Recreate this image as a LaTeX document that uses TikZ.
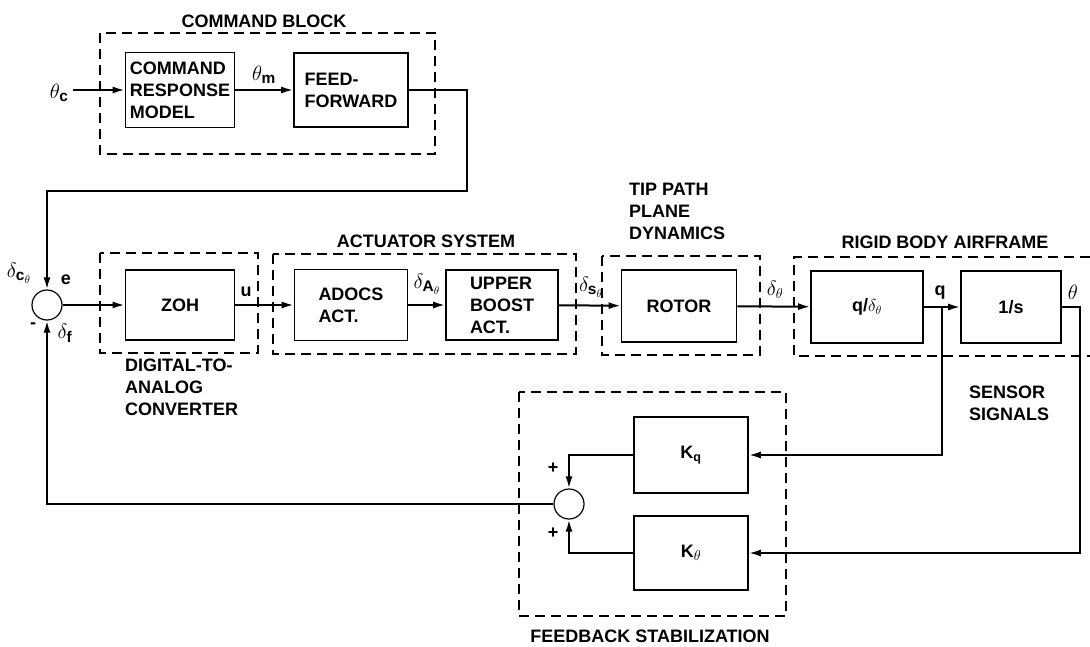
\documentclass[tikz,border=0pt]{standalone}
\usepackage{fontspec}
\usepackage{amsmath}
\setmainfont{Liberation Sans}
\usetikzlibrary{arrows.meta}

\begin{document}
\begin{tikzpicture}[x=1pt,y=-1pt,
    font=\fontsize{18}{22}\selectfont\bfseries,
    blk/.style={draw,line width=1.6pt,align=left,inner sep=2pt},
    sumpt/.style={circle,draw,line width=1.2pt,minimum size=30pt,inner sep=0pt},
    grp/.style={line width=1.5pt,dash pattern=on 10pt off 6pt},
    sig/.style={line width=2pt,-{Latex[length=12pt,width=7pt]}},
    mlbl/.style={font=\fontsize{22}{26}\selectfont\bfseries},
    lbl/.style={anchor=north west,inner sep=0pt,align=left}]
  \useasboundingbox (0,0) rectangle (1090,646);
  % command block
  \draw[grp] (100,33) rectangle (435,154);
  \node[anchor=base] (cmdt) at (264,27) {COMMAND BLOCK};
  \coordinate (cin) at (73,90);
  \node[blk,minimum width=109pt,minimum height=75pt] (crm) at (180,90) {COMMAND\\RESPONSE\\MODEL};
  \node[blk,minimum width=114pt,minimum height=74pt] (ff) at (351,90) {FEED-\\FORWARD};
  \node[mlbl,anchor=east] (thc) at (72,93) {$\theta_{\text{c}}$};
  \node[mlbl] (thm) at (264,75) {$\theta_{\text{m}}$};
  \draw[sig] (cin) -- (crm);
  \draw[sig] (crm) -- (ff);
  % forward path
  \node[sumpt] (sum1) at (47,305) {};
  \coordinate (ffturn) at (467,191);
  \draw[sig] (ff.east) -| (ffturn) -| (sum1.north);
  \node[mlbl] (dct) at (19,273) {$\delta_{\text{c}_\theta}$};
  \node (et) at (66,280) {e};
  \node (mt) at (33,326) {-};
  \node[mlbl] (dft) at (65,333) {$\delta_{\text{f}}$};
  \draw[grp] (100,253) rectangle (258,353); % D/A
  \node[lbl] (dact) at (125,359) {DIGITAL-TO-\\ANALOG\\CONVERTER};
  \node[blk,minimum width=109pt,minimum height=70pt] (zoh) at (180,305) {ZOH};
  \draw[grp] (273,254) rectangle (576,354); % actuators
  \node[anchor=base] (actt) at (426,247) {ACTUATOR SYSTEM};
  \node[blk,minimum width=113pt,minimum height=71pt] (adocs) at (351,305) {ADOCS\\ACT.};
  \node[blk,minimum width=112pt,minimum height=70pt] (boost) at (502,305) {UPPER\\BOOST\\ACT.};
  \draw[grp] (602,256) rectangle (760,355); % rotor
  \node[lbl] (tppt) at (629,183) {TIP PATH\\PLANE\\DYNAMICS};
  \node[blk,minimum width=115pt,minimum height=72pt] (rotor) at (679,306) {ROTOR};
  \draw[grp] (1090,257) -- (794,257) -- (794,356) -- (1090,356); % airframe
  \node[anchor=base] (rbat) at (945,248) {RIGID BODY AIRFRAME};
  \node[blk,mlbl,minimum width=112pt,minimum height=72pt] (plant) at (867,307) {\fontsize{18}{22}\selectfont q/$\delta_\theta$};
  \node[blk,minimum width=100pt,minimum height=72pt] (integ) at (1011,307) {1/s};
  \node (ut) at (246,292) {u};
  \node[mlbl] (dat) at (427,284) {$\delta_{\text{A}_\theta}$};
  \node[mlbl] (dst) at (591,287) {$\delta_{\text{s}_\theta}$};
  \node[mlbl] (dtt) at (775,290) {$\delta_\theta$};
  \node (qt) at (940,293) {q};
  \node[mlbl] (tht) at (1073,292) {$\theta$};
  \draw[sig] (sum1) -- (zoh);
  \draw[sig] (zoh) -- (adocs);
  \draw[sig] (adocs) -- (boost);
  \draw[sig] (boost) -- (rotor);
  \draw[sig] (rotor) -- (plant);
  \draw[sig] (plant) -- (integ);
  % feedback
  \draw[grp] (519,392) rectangle (786,616);
  \node[anchor=base] (fbt) at (650,642) {FEEDBACK STABILIZATION};
  \node[lbl] (sst) at (969,386) {SENSOR\\SIGNALS};
  \node[blk,mlbl,minimum width=114pt,minimum height=76pt] (kq) at (691,455) {\fontsize{18}{22}\selectfont K$_{\text{q}}$};
  \node[blk,mlbl,minimum width=114pt,minimum height=74pt] (kth) at (691,553) {\fontsize{18}{22}\selectfont K\fontsize{22}{26}\selectfont$_\theta$};
  \node[sumpt] (sum2) at (569,504) {};
  \node (p1) at (553,468) {+};
  \node (p2) at (553,533) {+};
  \coordinate (qtap) at (942,307);
  \coordinate (thtap) at (1080,553);
  \draw[sig] (qtap) |- (kq.east);
  \draw[sig] (integ.east) -| (thtap) -- (kth.east);
  \draw[sig] (kq.west) -| (sum2.north);
  \draw[sig] (kth.west) -| (sum2.south);
  \draw[sig] (sum2.west) -| (sum1.south);
\end{tikzpicture}
\end{document}
